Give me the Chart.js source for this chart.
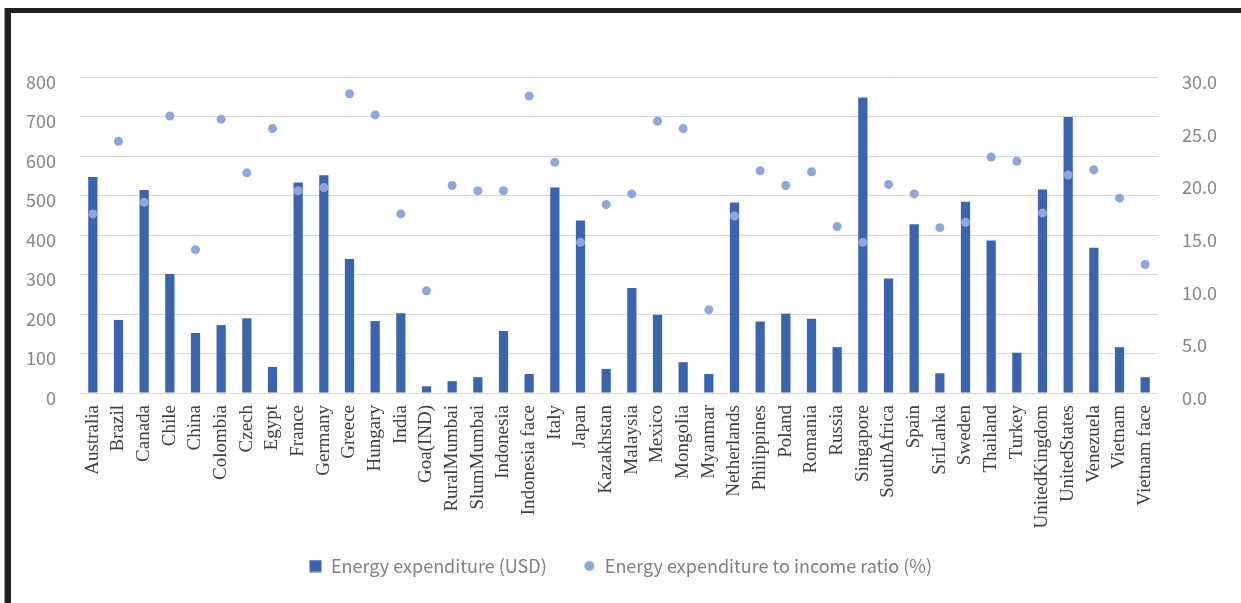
<!DOCTYPE html>
<html>
<head>
<meta charset="utf-8">
<script src="https://cdn.jsdelivr.net/npm/chart.js@4"></script>
<style>
  html, body { margin: 0; padding: 0; background: #fff; }
  #wrap { position: relative; width: 1241px; height: 603px; overflow: hidden; }
  #frameTop { position: absolute; left: 4px; top: 8px; width: 1237px; height: 5px; background: #1f1f1f; }
  #frameLeft { position: absolute; left: 4px; top: 8px; width: 6px; height: 595px; background: #1f1f1f; border-left: 1px solid #9a9a9a; }
  canvas { position: absolute; left: 0; top: 0; }
</style>
</head>
<body>
<div id="wrap">
  <canvas id="myChart" width="1241" height="603"></canvas>
  <div id="frameTop"></div>
  <div id="frameLeft"></div>
</div>
<script>
const countries = [
    'Australia', 'Brazil', 'Canada', 'Chile', 'China', 'Colombia', 'Czech',
    'Egypt', 'France', 'Germany', 'Greece', 'Hungary', 'India', 'Goa(IND)',
    'RuralMumbai', 'SlumMumbai', 'Indonesia', 'Indonesia face', 'Italy', 'Japan',
    'Kazakhstan', 'Malaysia', 'Mexico', 'Mongolia', 'Myanmar', 'Netherlands',
    'Philippines', 'Poland', 'Romania', 'Russia', 'Singapore', 'SouthAfrica',
    'Spain', 'SriLanka', 'Sweden', 'Thailand', 'Turkey', 'UnitedKingdom',
    'UnitedStates', 'Venezuela', 'Vietnam', 'Vietnam face',
];

// Energy expenditure (USD)
const expenditure = [
    547, 185, 514, 301, 152, 172, 189, 66, 533, 551, 339, 182, 202, 17,
    30, 40, 157, 48, 520, 437, 61, 266, 198, 78, 48, 482, 181, 201, 188,
    116, 748, 290, 427, 50, 484, 386, 102, 515, 699, 368, 116, 40,
];

// Energy expenditure to income ratio (%)
const ratio = [
    17.0, 23.9, 18.1, 26.3, 13.6, 26.0, 20.9, 25.1, 19.2, 19.5, 28.4, 26.4,
    17.0, 9.7, 19.7, 19.2, 19.2, 28.2, 21.9, 14.3, 17.9, 18.9, 25.8, 25.1,
    7.9, 16.8, 21.1, 19.7, 21.0, 15.8, 14.3, 19.8, 18.9, 15.7, 16.2, 22.4,
    22.0, 17.1, 20.7, 21.2, 18.5, 12.2,
];

const leftTicks = [0, 800, 100];
const rightTicks = [0, 30, 5];

const barColor = '#3c64ae';
const dotColor = '#8fa6da';
const tickColor = '#878787';
const gridColor = '#d9d9d9';
const sansFont = "'Noto Sans CJK JP', 'Noto Sans', sans-serif";

function legendMarker(kind) {
    const c = document.createElement('canvas');
    c.width = 13;
    c.height = 13;
    const g = c.getContext('2d');
    if (kind === 'rect') {
        g.fillStyle = barColor;
        g.fillRect(0.5, 0.5, 12, 12);
    } else {
        g.fillStyle = dotColor;
        g.beginPath();
        g.arc(6.5, 6.5, 5, 0, Math.PI * 2);
        g.fill();
    }
    return c;
}
const markers = [legendMarker('rect'), legendMarker('circle')];

// pull the legend up a bit so the long rotated labels keep their room
const legendShift = {
    id: 'legendShift',
    afterLayout(chart) {
        chart.legend.top -= 10;
        chart.legend.bottom -= 10;
    }
};

const data = {
    labels: countries,
    datasets: [{
        type: 'bar',
        label: 'Energy expenditure (USD)',
        data: expenditure,
        backgroundColor: barColor,
        yAxisID: 'y',
        order: 1,
        barPercentage: 0.36,
        categoryPercentage: 1,
    }, {
        type: 'line',
        label: 'Energy expenditure to income ratio (%)',
        data: ratio,
        showLine: false,
        pointRadius: 4.5,
        pointBackgroundColor: dotColor,
        pointBorderWidth: 0,
        borderColor: dotColor,
        yAxisID: 'y1',
        order: 0,
    }]
};

const config = {
    type: 'bar',
    data: data,
    plugins: [legendShift],
    options: {
        responsive: false,
        animation: false,
        layout: { padding: { left: 10, right: 10, top: 77, bottom: 8 } },
        plugins: {
            tooltip: { enabled: false },
            legend: {
                position: 'bottom',
                labels: {
                    usePointStyle: true,
                    boxWidth: 13,
                    boxHeight: 13,
                    padding: 36,
                    color: '#808080',
                    font: { family: sansFont, size: 18 },
                    generateLabels: chart => chart.data.datasets.map((ds, i) => ({
                        text: ds.label,
                        pointStyle: markers[i],
                        fillStyle: i === 0 ? barColor : dotColor,
                        strokeStyle: 'transparent',
                        lineWidth: 0,
                        hidden: false,
                        datasetIndex: i,
                        fontColor: '#808080',
                    })),
                },
            },
        },
        scales: {
            x: {
                grid: { display: false, drawTicks: false },
                border: { display: false },
                ticks: {
                    autoSkip: false,
                    minRotation: 90,
                    maxRotation: 90,
                    padding: 12,
                    color: '#404040',
                    font: { family: "'Liberation Serif', 'Times New Roman', serif", size: 19 },
                },
                afterFit: s => { s.height = 138; },
            },
            y: {
                position: 'left',
                min: leftTicks[0],
                max: leftTicks[1],
                grid: { color: gridColor, drawTicks: false },
                border: { display: false },
                ticks: {
                    stepSize: leftTicks[2],
                    padding: 24,
                    labelOffset: 5,
                    color: tickColor,
                    font: { family: sansFont, size: 18 },
                },
                afterFit: s => { s.width = 70; },
            },
            y1: {
                position: 'right',
                min: rightTicks[0],
                max: rightTicks[1],
                grid: { display: false, drawTicks: false },
                border: { display: false },
                ticks: {
                    stepSize: rightTicks[2],
                    padding: 24,
                    labelOffset: 5,
                    color: tickColor,
                    font: { family: sansFont, size: 18 },
                    callback: v => v.toFixed(1),
                },
                afterFit: s => { s.width = 73; },
            },
        },
    },
};

new Chart(document.getElementById('myChart'), config);
</script>
</body>
</html>
